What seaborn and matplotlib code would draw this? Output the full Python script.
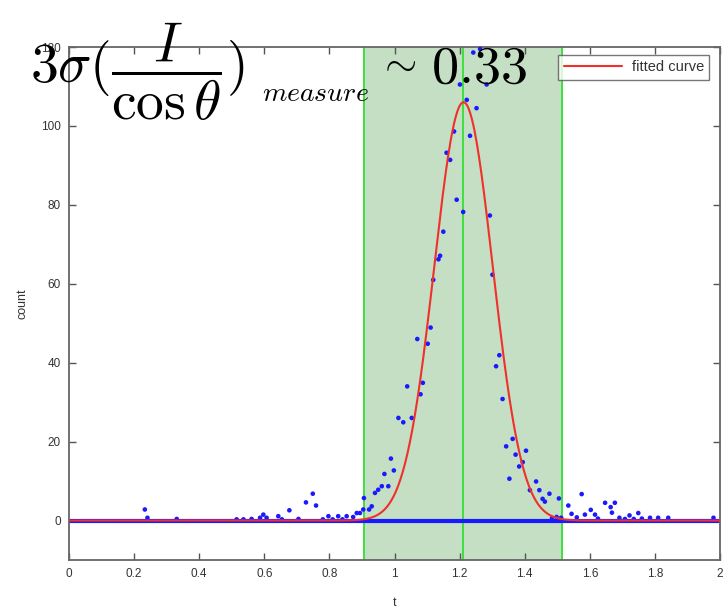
import numpy as np
import pandas as pd
import matplotlib
matplotlib.use("Agg")
import matplotlib.pyplot as plt
import seaborn as sns

# ---- data ----
point_t = [0.233, 0.241, 0.331, 0.515, 0.536, 0.561, 0.587, 0.597, 0.607, 0.643,
           0.654, 0.677, 0.705, 0.728, 0.749, 0.759, 0.780, 0.797, 0.810, 0.827,
           0.840, 0.853, 0.873, 0.884, 0.894, 0.904, 0.906, 0.922, 0.930, 0.940,
           0.950, 0.961, 0.969, 0.981, 0.989, 0.998, 1.012, 1.027, 1.039, 1.053,
           1.070, 1.080, 1.087, 1.102, 1.111, 1.119, 1.135, 1.140, 1.150, 1.160,
           1.171, 1.183, 1.191, 1.201, 1.211, 1.222, 1.232, 1.242, 1.252, 1.263,
           1.283, 1.293, 1.301, 1.312, 1.322, 1.332, 1.343, 1.353, 1.363, 1.372,
           1.383, 1.394, 1.404, 1.416, 1.435, 1.445, 1.455, 1.462, 1.476, 1.484,
           1.498, 1.505, 1.512, 1.534, 1.544, 1.560, 1.575, 1.585, 1.603, 1.616,
           1.625, 1.647, 1.664, 1.668, 1.677, 1.691, 1.708, 1.722, 1.735, 1.749,
           1.760, 1.785, 1.810, 1.841, 1.980]
point_count = [2.8, 0.7, 0.4, 0.3, 0.3, 0.4, 0.7, 1.5, 0.7, 1.1,
               0.3, 2.6, 0.4, 4.6, 6.8, 3.8, 0.3, 1.1, 0.3, 1.1,
               0.3, 1.1, 0.9, 1.9, 1.9, 2.8, 5.7, 2.8, 3.6, 7.0,
               7.8, 8.7, 11.8, 8.7, 15.7, 12.7, 26.0, 24.9, 34.0, 26.0,
               46.0, 32.0, 34.9, 44.8, 48.9, 61.0, 66.2, 67.1, 73.2, 93.2,
               91.4, 98.6, 81.3, 110.5, 78.2, 106.6, 97.5, 118.6, 104.5, 119.5,
               110.5, 77.3, 62.3, 39.1, 41.9, 30.8, 18.8, 10.6, 20.7, 16.7,
               13.7, 14.8, 17.7, 7.7, 9.9, 7.7, 5.5, 4.8, 6.8, 0.6,
               0.9, 5.6, 0.7, 3.8, 1.7, 0.8, 6.7, 1.5, 2.7, 1.5,
               0.5, 4.5, 3.4, 2.0, 4.5, 0.7, 0.4, 1.3, 0.4, 1.9,
               0.5, 0.7, 0.7, 0.7, 0.7]

baseline_t = [0.0, 2.0]
baseline_count = [0.0, 0.0]

# fitted gaussian parameters
fit_amplitude = 106.0
fit_mean = 1.212
fit_sigma = 0.09

band_lower = 0.905
band_center = 1.21
band_upper = 1.515

x_ticks = [0, 0.2, 0.4, 0.6, 0.8, 1.0, 1.2, 1.4, 1.6, 1.8, 2.0]
x_tick_labels = ["0", "0.2", "0.4", "0.6", "0.8", "1", "1.2", "1.4", "1.6", "1.8", "2"]
y_ticks = [0, 20, 40, 60, 80, 100, 120]
y_tick_labels = ["0", "20", "40", "60", "80", "100", "120"]

# ---- build ----
sns.set_style("ticks")
plt.rcParams["font.family"] = ["Liberation Sans", "DejaVu Sans"]
plt.rcParams["mathtext.fontset"] = "cm"

points = pd.DataFrame({"t": point_t, "count": point_count})
curve_t = np.linspace(0, 2, 801)
curve = pd.DataFrame({"t": curve_t,
                      "count": fit_amplitude * np.exp(-(curve_t - fit_mean) ** 2 / (2 * fit_sigma ** 2))})
base = pd.DataFrame({"t": baseline_t, "count": baseline_count})

fig = plt.figure(figsize=(7.23, 6.10), dpi=100)
ax = fig.add_axes([69 / 723, 50 / 610, (720 - 69) / 723, (560 - 47) / 610])

ax.axvspan(band_lower, band_upper, color="#c4dfc4", zorder=0, lw=0)
for xv in (band_lower, band_center, band_upper):
    ax.axvline(xv, color="#3ee03e", lw=1.4, zorder=1)

sns.lineplot(data=base, x="t", y="count", ax=ax, color="#1a1aff", lw=3.0, zorder=2)
sns.scatterplot(data=points, x="t", y="count", ax=ax, color="#1a1aff", marker="o",
                s=11, edgecolor="none", zorder=3, clip_on=False)
sns.lineplot(data=curve, x="t", y="count", ax=ax, color="#f0302a", lw=1.5, zorder=4,
             label="fitted curve")

ax.set_xlim(0, 2)
ax.set_ylim(-10, 120)
ax.set_xticks(x_ticks)
ax.set_xticklabels(x_tick_labels)
ax.set_yticks(y_ticks)
ax.set_yticklabels(y_tick_labels)
ax.tick_params(direction="in", top=True, right=True, length=5, width=1.0,
               colors="#555555", labelsize=8.5, labelcolor="#333333", pad=6)
for sp in ax.spines.values():
    sp.set_color("#666666")
    sp.set_linewidth(1.3)
ax.set_xlabel("t", fontsize=9, color="#333333", labelpad=12)
ax.set_ylabel("count", fontsize=9, color="#333333", labelpad=9)

leg = ax.legend(loc="upper right", fontsize=10.5, frameon=True, fancybox=False,
                borderpad=0.35, handlelength=4.0, handletextpad=0.7,
                bbox_to_anchor=(0.995, 0.998))
leg.get_frame().set_edgecolor("#555555")
leg.get_frame().set_linewidth(1.0)
for t in leg.get_texts():
    t.set_color("#333333")

fig.text(30 / 723, 1 - 83 / 610,
         r"$3\sigma(\dfrac{I}{\cos\theta})$",
         fontsize=40, color="black", va="baseline", ha="left", zorder=10)
fig.text(262 / 723, 1 - 101 / 610, r"$\mathit{measure}$",
         fontsize=20, color="black", va="baseline", ha="left", zorder=10)
fig.text(377 / 723, 1 - 74 / 610, r"$\sim$",
         fontsize=30, color="black", va="baseline", ha="left", zorder=10)
fig.text(431 / 723, 1 - 83 / 610, r"$0.33$",
         fontsize=39, color="black", va="baseline", ha="left", zorder=10)

fig.savefig("out.png", dpi=100)
